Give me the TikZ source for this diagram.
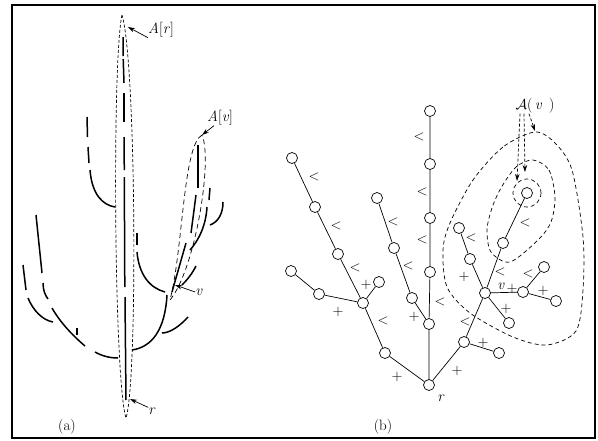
\documentclass[tikz,border=0pt]{standalone}
\usepackage{amsmath}
\usepackage{amssymb}
\usepackage{tikz}
\usetikzlibrary{arrows.meta,positioning}
\tikzset{sm circ/.style={circle,fill=white,draw,line width=0.7pt,minimum size=11pt,inner sep=0pt},
  sgn/.style={inner sep=0pt,font=\fontsize{14}{14}\selectfont},
  lbl/.style={inner sep=0pt,font=\fontsize{15}{17}\selectfont},
  branch/.style={line width=1.5pt},
  hull/.style={line width=0.7pt,dash pattern=on 3pt off 2pt},
  vhull/.style={line width=0.7pt,dash pattern=on 5pt off 3.5pt},
  set/.style={line width=0.7pt,dash pattern=on 4pt off 3pt},}
\tikzstyle{arrow} = [line width=0.7pt,-{Stealth[length=7pt,width=4.5pt]}]
\tikzstyle{darrow} = [line width=0.7pt,dash pattern=on 3pt off 2pt,-{Stealth[length=7pt,width=4.5pt]}]

\begin{document}
\begin{tikzpicture}[x=1pt,y=-1pt]
    \useasboundingbox (0,0) rectangle (598,440);
    \draw[line width=2pt] (12,5) rectangle (595,438);

    % (a) the branches
    \draw[hull] (122,15) .. controls (112,60) and (114,380) .. (126,418)
                         .. controls (138,380) and (136,60) .. (122,15);
    \draw[branch] (123,37) -- (123.2,56);
    \draw[branch] (123.2,59) -- (124,83);
    \draw[branch] (124,93) -- (124,122);
    \draw[branch] (124,137) -- (124.3,170);
    \draw[branch] (124.3,177) -- (124.8,287);
    \draw[branch] (125,297) -- (126,400);
    % left
    \draw[branch] (87,117) -- (87.5,137);
    \draw[branch] (88,147) -- (89,163);
    \draw[branch] (90,170) .. controls (92,195) and (103,205) .. (115,207);
    \draw[branch] (36,215) -- (42,273);
    \draw[branch] (43,283) .. controls (43,290) and (45,295) .. (48,299);
    \draw[branch] (52,308) .. controls (60,322) and (72,335) .. (85,346);
    \draw[branch] (95,352) .. controls (102,356) and (110,358) .. (118,358);
    \draw[branch] (23,265) -- (26,290);
    \draw[branch] (28,298) .. controls (33,310) and (42,320) .. (53,322);
    \draw[branch] (77,328) -- (77,335);
    % right
    \draw[branch] (137,233) -- (137,245);
    \draw[branch] (137,252) .. controls (139,275) and (150,288) .. (165,292);
    \draw[branch] (132,350) .. controls (152,347) and (165,330) .. (167,295);
    \draw[branch] (188,317) .. controls (180,326) and (170,333) .. (162,333);
    \draw[vhull] (202,135) .. controls (183,145) and (183,250) .. (170,300)
                           .. controls (195,270) and (213,160) .. (202,135);
    \draw[branch] (198,145) -- (198,188);
    \draw[branch] (196,195) -- (191,233);
    \draw[branch] (186,243) -- (172,292);
    \draw[branch] (210,188) -- (209,200);
    \draw[branch] (207,207) .. controls (206,225) and (199,240) .. (190,250);
    \draw[branch] (196,266) .. controls (192,274) and (187,280) .. (182,285);
    \draw[branch] (223,202) .. controls (223,214) and (218,222) .. (210,225);

    \node[lbl] (Ar) at (161,30) {\textit{A}[\textit{r}]};
    \node[lbl] (Av) at (220,118) {\textit{A}[\textit{v}]};
    \node[lbl] (va) at (199,292) {\textit{v}};
    \node[lbl] (ra) at (152,411) {\textit{r}};
    \coordinate (ArTip) at (128,27);
    \coordinate (AvTip) at (202,135);
    \coordinate (vTip) at (175,285);
    \coordinate (rTip) at (130,399);
    \draw[arrow] (Ar.south west) -- (ArTip);
    \draw[arrow] ([xshift=-6pt]Av.south) -- (AvTip);
    \draw[arrow] (va.west) -- (vTip);
    \draw[arrow] (ra.north west) -- (rTip);
    \node[lbl] (capa) at (67,427) {(a)};

    % (b) the tree
    \draw[set] plot[smooth cycle] coordinates {(535,132) (503,147) (473,180) (450,223) (443,250)
        (447,287) (470,313) (513,337) (547,345) (576,331) (583,290) (583,237) (572,170) (555,143)};
    \draw[set] plot[smooth cycle] coordinates {(533,160) (549,170) (555,197) (551,222) (538,240)
        (510,262) (491,252) (487,230) (492,208) (501,188) (516,167)};
    \draw[set] (527,193) circle (14);

    \node[sm circ] (r) at (429,385) {};
    \node[sm circ] (c1) at (429,324) {};
    \node[sm circ] (c2) at (430,272) {};
    \node[sm circ] (c3) at (430,218) {};
    \node[sm circ] (c4) at (430,164) {};
    \node[sm circ] (c5) at (430,111) {};
    \node[sm circ] (a1) at (385,353) {};
    \node[sm circ] (a2) at (363,303) {};
    \node[sm circ] (a3) at (338,254) {};
    \node[sm circ] (a4) at (315,207) {};
    \node[sm circ] (a5) at (292,158) {};
    \node[sm circ] (a6) at (379,282) {};
    \node[sm circ] (a7) at (319,294) {};
    \node[sm circ] (a8) at (291,271) {};
    \node[sm circ] (m1) at (412,298) {};
    \node[sm circ] (m2) at (394,248) {};
    \node[sm circ] (m3) at (377,198) {};
    \node[sm circ] (b1) at (464,342) {};
    \node[sm circ] (b2) at (499,353) {};
    \node[sm circ] (v) at (485,293) {};
    \node[sm circ] (b3) at (503,243) {};
    \node[sm circ] (b4) at (527,193) {};
    \node[sm circ] (b5) at (470,259) {};
    \node[sm circ] (b6) at (459,228) {};
    \node[sm circ] (b7) at (523,292) {};
    \node[sm circ] (b8) at (544,267) {};
    \node[sm circ] (b9) at (556,301) {};
    \node[sm circ] (b10) at (509,323) {};

    \draw[line width=0.7pt] (r) -- (c1) -- (c2) -- (c3) -- (c4) -- (c5);
    \draw[line width=0.7pt] (r) -- (a1) -- (a2) -- (a3) -- (a4) -- (a5);
    \draw[line width=0.7pt] (a2) -- (a6);
    \draw[line width=0.7pt] (a2) -- (a7) -- (a8);
    \draw[line width=0.7pt] (c1) -- (m1) -- (m2) -- (m3);
    \draw[line width=0.7pt] (r) -- (b1) -- (v) -- (b3) -- (b4);
    \draw[line width=0.7pt] (b1) -- (b2);
    \draw[line width=0.7pt] (v) -- (b5) -- (b6);
    \draw[line width=0.7pt] (v) -- (b7) -- (b8);
    \draw[line width=0.7pt] (b7) -- (b9);
    \draw[line width=0.7pt] (v) -- (b10);

    \foreach \p [count=\i] in {(419,137),(422,192),(422,240),(440,302),(314,177),(336,226),
        (355,268),(383,321),(393,222),(408,266),(465,322),(500,272),(525,223),(471,238),(528,274)}
        \node[sgn] (lt\i) at \p {$<$};
    \foreach \p [count=\i] in {(397,377),(338,312),(366,285),(414,317),(457,371),(483,343),
        (464,277),(512,289),(543,291),(506,309)}
        \node[sgn] (pl\i) at \p {$+$};

    \node[lbl] (vb) at (501,286) {\textit{v}};
    \node[lbl] (rb) at (441,398) {\textit{r}};
    \node[lbl] (Aset) at (535,106) {$\mathcal{A}$(\,\textit{v}\, )};
    \coordinate (in1) at (517,181);
    \coordinate (in2) at (525,172);
    \coordinate (out) at (535,131);
    \draw[darrow] ([xshift=-15pt]Aset.south) -- (in1);
    \draw[darrow] ([xshift=-11pt]Aset.south) -- (in2);
    \draw[darrow] ([xshift=-6pt]Aset.south) -- (out);
    \node[lbl] (capb) at (383,427) {(b)};
\end{tikzpicture}
\end{document}
